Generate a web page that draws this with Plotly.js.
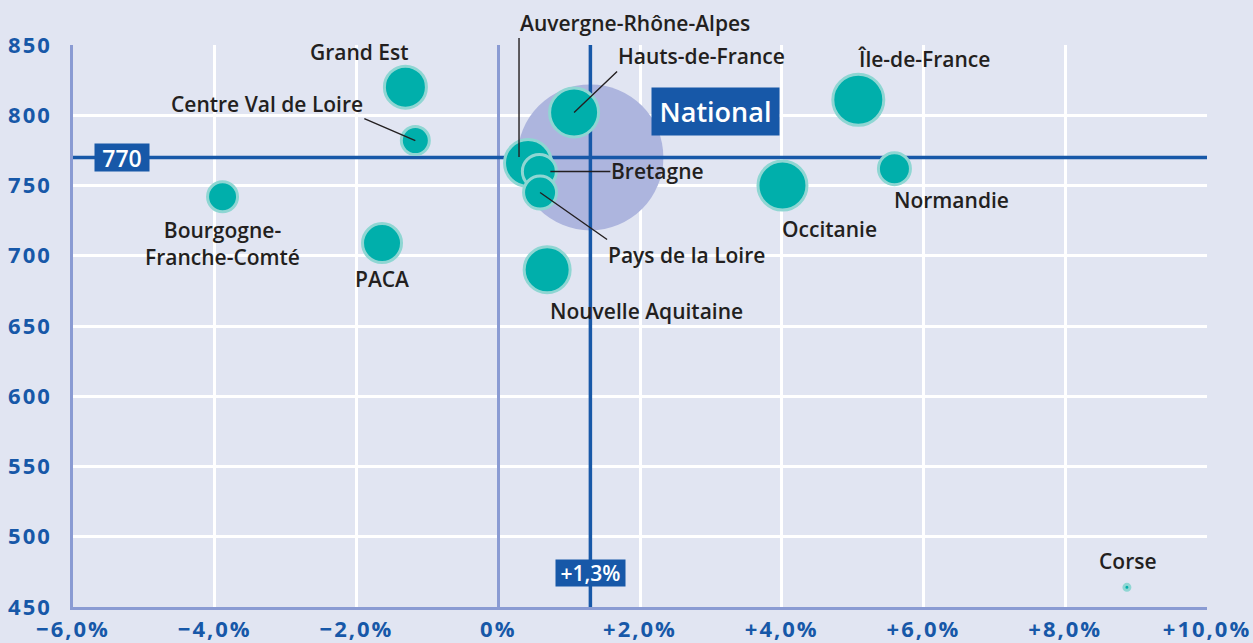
<!DOCTYPE html>
<html>
<head>
<meta charset="utf-8">
<script src="https://cdn.plot.ly/plotly-3.0.1.min.js"></script>
<style>
html,body{margin:0;padding:0;background:#e1e5f2;}
#chart{width:1253px;height:643px;}
.xtick text,.ytick text{letter-spacing:2px;}
</style>
</head>
<body>
<div id="chart"></div>
<script>
// ---- data ----
const regions = ["Grand Est","Centre Val de Loire","Bourgogne-<br>Franche-Comté","PACA",
  "Auvergne-Rhône-Alpes","Bretagne","Pays de la Loire","Hauts-de-France",
  "Nouvelle Aquitaine","Île-de-France","Normandie","Occitanie","Corse"];
const evolution = [-1.31,-1.17,-3.89,-1.64,0.42,0.58,0.59,1.07,0.69,5.08,5.59,4.01,8.87];
const niveau    = [820,782,742,709,766,760,745,802,690,811,762,750,464];
const poids     = [42,28,30,39,47,34,33,49,46,51,32,49,6];
const nationalX = 1.3;
const nationalY = 770;
const nationalPoids = 146;
const xTickVals = [-6,-4,-2,0,2,4,6,8,10];
const xTickText = ["−6,0%","−4,0%","−2,0%","0%","+2,0%","+4,0%","+6,0%","+8,0%","+10,0%"];
const yTickVals = [450,500,550,600,650,700,750,800,850];
const xRange = [-6,10];
const yRange = [450,850];

// ---- styles ----
const BLUE = "#1758a8";
const TEAL = "#00afab";
const TEAL_LIGHT = "#8fd6d3";
const LAV = "#8a9bd3";
const BG = "#e1e5f2";
const TXT = "#231f20";
const FONT = "'Open Sans', 'Noto Sans', sans-serif";
const labelFont = {family:FONT, size:21, color:TXT, weight:600};

const traces = [
  {type:"scatter", mode:"markers", x:[nationalX], y:[nationalY], hoverinfo:"skip",
   marker:{size:[nationalPoids], sizemode:"diameter", sizeref:1, color:"#adb5de", opacity:1, line:{width:0}}},
  {type:"scatter", mode:"lines", x:xRange, y:[nationalY,nationalY], hoverinfo:"skip",
   line:{color:BLUE, width:3.5}},
  {type:"scatter", mode:"lines", x:[nationalX,nationalX], y:yRange, hoverinfo:"skip",
   line:{color:BLUE, width:3.5}},
  {type:"scatter", mode:"markers", x:evolution, y:niveau, text:regions, hoverinfo:"text",
   marker:{size:poids, sizemode:"diameter", sizeref:1, color:TEAL, opacity:1,
           line:{color:TEAL_LIGHT, width:3}}}
];

// label placement offsets (pixels) per region
const place = {
  "Grand Est":{xshift:-46, yshift:35},
  "Bourgogne-<br>Franche-Comté":{yshift:-47},
  "PACA":{yshift:-36},
  "Nouvelle Aquitaine":{xshift:99, yshift:-41},
  "Île-de-France":{xshift:66, yshift:41},
  "Normandie":{xshift:57, yshift:-31},
  "Occitanie":{xshift:47, yshift:-43},
  "Corse":{xshift:1, yshift:26},
  "Centre Val de Loire":{arrow:true, ax:-51, ay:-22, xanchor:"right", yanchor:"bottom"},
  "Auvergne-Rhône-Alpes":{arrow:true, ax:0, ay:-119, xanchor:"left", yanchor:"bottom", xshift:-9, yshift:6},
  "Hauts-de-France":{arrow:true, ax:43, ay:-41, xanchor:"left", yanchor:"bottom"},
  "Bretagne":{arrow:true, ax:71, ay:0, xanchor:"left", yanchor:"middle", standoff:11},
  "Pays de la Loire":{arrow:true, ax:67, ay:47, xanchor:"left", yanchor:"top"}
};

const annotations = regions.map((r,i)=>{
  const p = place[r] || {};
  const a = {x:evolution[i], y:niveau[i], xref:"x", yref:"y", text:r, font:labelFont,
    borderpad:0, xshift:p.xshift||0, yshift:p.yshift||0, align:"center"};
  if (p.arrow) {
    Object.assign(a, {showarrow:true, arrowhead:0, arrowwidth:1.4, arrowcolor:TXT,
      ax:p.ax, ay:p.ay, xanchor:p.xanchor, yanchor:p.yanchor, standoff:p.standoff||0});
  } else {
    a.showarrow = false;
  }
  return a;
});

annotations.push(
  {x:3.07, y:803, xref:"x", yref:"y", text:"National", showarrow:false,
   width:127, height:47, bgcolor:BLUE, borderpad:0,
   font:{family:FONT, size:27, color:"#ffffff", weight:600}},
  {x:0, y:nationalY, xref:"paper", yref:"y", text:String(nationalY), showarrow:false, xanchor:"left",
   xshift:21, width:54, height:27, bgcolor:BLUE, borderpad:0,
   font:{family:FONT, size:23, color:"#ffffff", weight:600}},
  {x:nationalX, y:0, xref:"x", yref:"paper", text:"+1,3%", showarrow:false, yanchor:"bottom",
   yshift:20, width:69, height:26, bgcolor:BLUE, borderpad:0,
   font:{family:FONT, size:21, color:"#ffffff", weight:600}}
);

const tickFont = {family:FONT, size:22, color:BLUE, weight:700};

const layout = {
  width:1253, height:643,
  paper_bgcolor:BG, plot_bgcolor:BG,
  margin:{l:73, r:46, t:45, b:36},
  showlegend:false,
  hovermode:"closest",
  xaxis:{range:xRange, tickvals:xTickVals, ticktext:xTickText, tickfont:tickFont,
    showgrid:true, gridcolor:"#ffffff", gridwidth:3,
    zeroline:true, zerolinecolor:LAV, zerolinewidth:2.5,
    showline:true, linecolor:LAV, linewidth:2.5, ticks:"outside", ticklen:1, tickcolor:"rgba(0,0,0,0)",
    fixedrange:true},
  yaxis:{range:yRange, tickvals:yTickVals, tickfont:tickFont,
    showgrid:true, gridcolor:"#ffffff", gridwidth:3, zeroline:false,
    showline:true, linecolor:LAV, linewidth:2.5, ticks:"outside", ticklen:14, tickcolor:"rgba(0,0,0,0)",
    fixedrange:true},
  annotations:annotations
};

Plotly.newPlot("chart", traces, layout, {displayModeBar:false, staticPlot:false});
</script>
</body>
</html>
